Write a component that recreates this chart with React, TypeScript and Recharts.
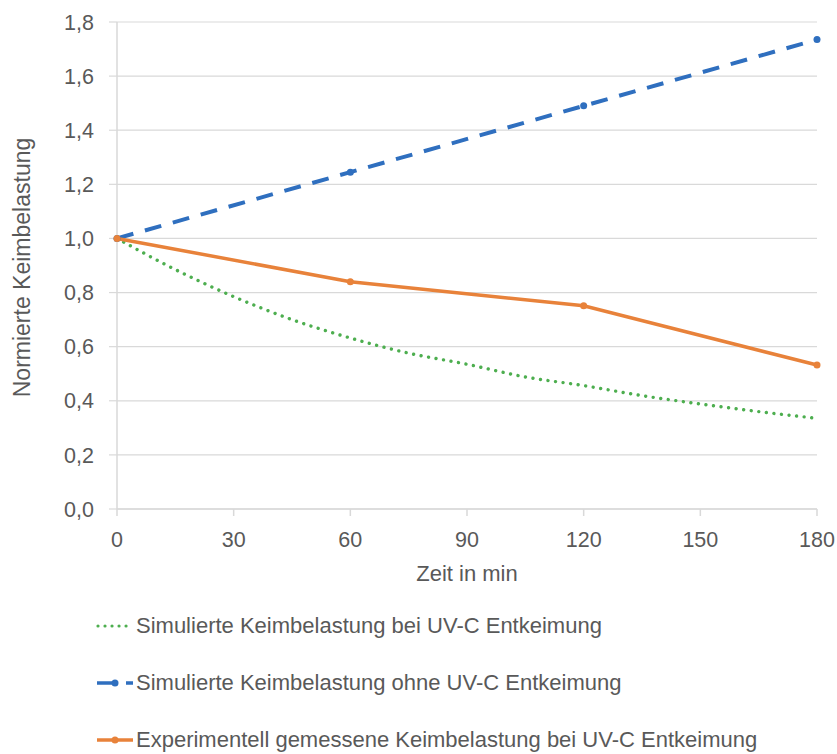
import React from 'react';
import { LineChart, Line, XAxis, YAxis, CartesianGrid, Legend } from 'recharts';

// Zeit in min (Stützstellen alle 15 min)
const minutes = [0, 15, 30, 45, 60, 75, 90, 105, 120, 135, 150, 165, 180];

// simulierte Keimbelastung mit UV-C
const simMitUV = [1.0, 0.885, 0.785, 0.7, 0.632, 0.576, 0.535, 0.488, 0.456, 0.419, 0.388, 0.36, 0.335];

// nur bei 0, 60, 120, 180 min vorhanden
const simOhneUV = [1.0, null, null, null, 1.245, null, null, null, 1.49, null, null, null, 1.735];
const gemessen = [1.0, null, null, null, 0.84, null, null, null, 0.751, null, null, null, 0.532];

const xTicks = [0, 30, 60, 90, 120, 150, 180];
const yTicks = [0, 0.2, 0.4, 0.6, 0.8, 1.0, 1.2, 1.4, 1.6, 1.8];

const seriesNames = [
  'Simulierte Keimbelastung bei UV-C Entkeimung',
  'Simulierte Keimbelastung ohne UV-C Entkeimung',
  'Experimentell gemessene Keimbelastung bei UV-C Entkeimung',
];

const GREEN = '#4DAE4F';
const BLUE = '#2F6FBF';
const ORANGE = '#E8823A';
const TEXT = '#595959';
const AXIS = '#d9d9d9';
const FONT = '"Liberation Sans", Arial, sans-serif';

const data = minutes.map((m, i) => ({
  t: m,
  mit: simMitUV[i],
  ohne: simOhneUV[i],
  mess: gemessen[i],
}));

const fmt = (v: number) => v.toFixed(1).replace('.', ',');

const makeDot = (color: string) => (props: any) => {
  const { cx, cy, value, index } = props;
  if (value == null || cx == null || cy == null) return <g key={index} />;
  return <circle key={index} cx={cx} cy={cy} r={3.5} fill={color} stroke="none" />;
};

const YTitle = (props: any) => {
  const { viewBox } = props;
  const x = viewBox.x + 22;
  const y = viewBox.y + viewBox.height / 2 + 2;
  return (
    <text x={x} y={y} transform={`rotate(-90 ${x} ${y})`} textAnchor="middle" dominantBaseline="central"
      fill={TEXT} fontSize={23} fontFamily={FONT}>
      Normierte Keimbelastung
    </text>
  );
};

const XTitle = (props: any) => {
  const { viewBox } = props;
  return (
    <text x={viewBox.x + viewBox.width / 2} y={viewBox.y + 72} textAnchor="middle"
      fill={TEXT} fontSize={22} fontFamily={FONT}>
      Zeit in min
    </text>
  );
};

const LegendIcon = ({ idx }: { idx: number }) => {
  if (idx === 0) {
    return (
      <svg width={38} height={10}>
        <line x1={2} y1={5} x2={37} y2={5} stroke={GREEN} strokeWidth={3.2} strokeLinecap="round" strokeDasharray="0.01 7" />
      </svg>
    );
  }
  if (idx === 1) {
    return (
      <svg width={38} height={10}>
        <line x1={1} y1={5} x2={37} y2={5} stroke={BLUE} strokeWidth={3.5} strokeDasharray="19 10" />
        <circle cx={19} cy={5} r={3.5} fill={BLUE} />
      </svg>
    );
  }
  return (
    <svg width={38} height={10}>
      <line x1={1} y1={5} x2={37} y2={5} stroke={ORANGE} strokeWidth={3.5} />
      <circle cx={19} cy={5} r={3.5} fill={ORANGE} />
    </svg>
  );
};

const renderLegend = () => (
  <div style={{ fontFamily: FONT, fontSize: 22, color: TEXT }}>
    {seriesNames.map((n, i) => (
      <div key={n} style={{ display: 'flex', alignItems: 'center', height: 57 }}>
        <LegendIcon idx={i} />
        <span style={{ marginLeft: 2, whiteSpace: 'nowrap' }}>{n}</span>
      </div>
    ))}
  </div>
);

export default function App() {
  return (
    <div style={{ position: 'absolute', left: 0, top: 0, background: '#fff' }}>
      <LineChart width={837} height={754} data={data} margin={{ top: 22, right: 20, left: 0, bottom: 165 }}>
        <CartesianGrid vertical={false} stroke={AXIS} strokeWidth={1.2} />
        <XAxis
          dataKey="t"
          type="number"
          domain={[0, 180]}
          ticks={xTicks}
          height={80}
          axisLine={{ stroke: AXIS, strokeWidth: 1.5 }}
          tickLine={{ stroke: AXIS, strokeWidth: 1.5 }}
          tickSize={7}
          tickMargin={16}
          tick={{ fill: TEXT, fontSize: 21.5, fontFamily: FONT }}
          label={<XTitle />}
        />
        <YAxis
          type="number"
          domain={[0, 1.8]}
          ticks={yTicks}
          width={117}
          tickFormatter={fmt}
          axisLine={{ stroke: AXIS, strokeWidth: 1.5 }}
          tickLine={{ stroke: AXIS, strokeWidth: 1.2 }}
          tickSize={8}
          tickMargin={15}
          tick={{ fill: TEXT, fontSize: 21.5, fontFamily: FONT }}
          label={<YTitle />}
        />
        <Legend
          layout="vertical"
          align="center"
          verticalAlign="middle"
          content={renderLegend}
          wrapperStyle={{ left: 96, top: 597, width: 740 }}
        />
        <Line
          dataKey="mit"
          name={seriesNames[0]}
          type="monotone"
          stroke={GREEN}
          strokeWidth={3.4}
          strokeLinecap="round"
          strokeDasharray="0.01 7.6"
          dot={false}
          activeDot={false}
          isAnimationActive={false}
        />
        <Line
          dataKey="ohne"
          name={seriesNames[1]}
          type="linear"
          connectNulls
          stroke={BLUE}
          strokeWidth={4}
          strokeDasharray="17 12"
          dot={makeDot(BLUE)}
          activeDot={false}
          isAnimationActive={false}
        />
        <Line
          dataKey="mess"
          name={seriesNames[2]}
          type="linear"
          connectNulls
          stroke={ORANGE}
          strokeWidth={3.5}
          dot={makeDot(ORANGE)}
          activeDot={false}
          isAnimationActive={false}
        />
      </LineChart>
    </div>
  );
}
